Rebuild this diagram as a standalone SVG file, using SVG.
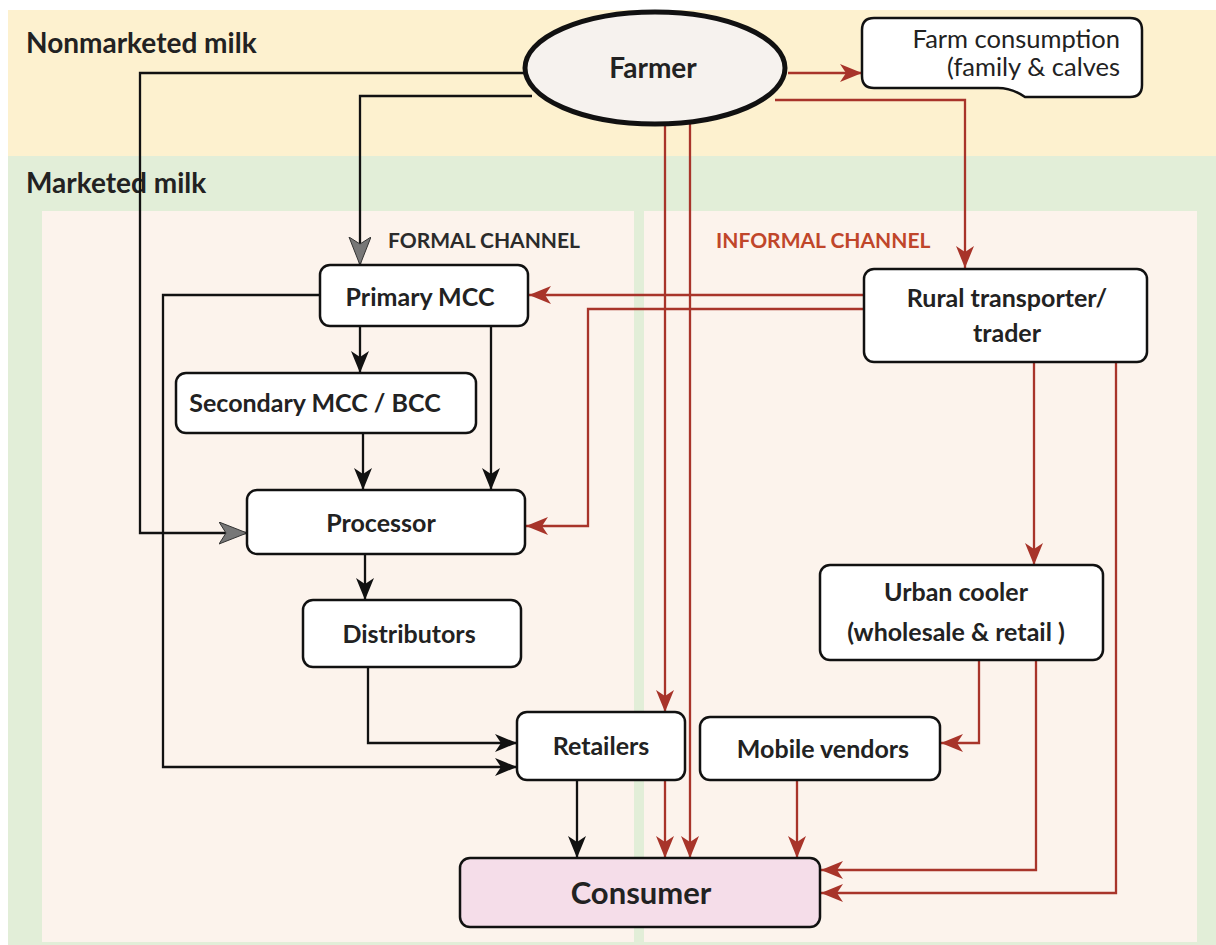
<svg xmlns="http://www.w3.org/2000/svg" width="1216" height="945" viewBox="0 0 1216 945">
<defs>
<style>
.node{fill:#ffffff;stroke:#111;stroke-width:2.5}
.t{font-family:Lato,"Open Sans","Liberation Sans",sans-serif;font-weight:bold;fill:#222;font-size:25px;text-anchor:middle}
.lbl{font-family:Lato,"Open Sans","Liberation Sans",sans-serif;font-weight:bold;fill:#222}
.blk{fill:none;stroke:#111;stroke-width:2.3}
.red{fill:none;stroke:#a8342a;stroke-width:2.3}
</style>
<marker id="ab" markerUnits="userSpaceOnUse" markerWidth="24" markerHeight="20" refX="22" refY="9" orient="auto" viewBox="0 0 24 20">
<path d="M0,0 L22,9 L0,18 L6,9 Z" fill="#111"/>
</marker>
<marker id="ag" markerUnits="userSpaceOnUse" markerWidth="30" markerHeight="24" refX="28" refY="11" orient="auto" viewBox="0 0 30 24">
<path d="M0,0 L28,11 L0,22 L7,11 Z" fill="#777" stroke="#333" stroke-width="1"/>
</marker>
<marker id="ar" markerUnits="userSpaceOnUse" markerWidth="24" markerHeight="20" refX="22" refY="9" orient="auto" viewBox="0 0 24 20">
<path d="M0,0 L22,9 L0,18 L6,9 Z" fill="#a8342a"/>
</marker>
</defs>
<rect width="1216" height="945" fill="#ffffff"/>
<rect x="8" y="10" width="1208" height="146" fill="#fdf1cf"/>
<rect x="8" y="156" width="1208" height="789" fill="#e2eed8"/>
<rect x="42" y="211" width="592" height="731" fill="#fcf3ec"/>
<rect x="644" y="211" width="553" height="731" fill="#fcf3ec"/>
<text class="lbl" x="26" y="53" style="font-size:28px">Nonmarketed milk</text>
<text class="lbl" x="26" y="193" style="font-size:28px">Marketed milk</text>
<text class="lbl" x="388" y="248" style="font-size:21px;fill:#2b2b2b">FORMAL CHANNEL</text>
<text class="lbl" x="716" y="248" style="font-size:21px;fill:#c0462a">INFORMAL CHANNEL</text>

<g id="connectors">
<path class="blk" d="M524,73 H140 V533 H247" marker-end="url(#ag)"/>
<path class="blk" d="M532,96 H360 V265" marker-end="url(#ag)"/>
<path class="blk" d="M320,295 H163 V767 H517" marker-end="url(#ab)"/>
<path class="blk" d="M360,326 V373" marker-end="url(#ab)"/>
<path class="blk" d="M491,326 V490" marker-end="url(#ab)"/>
<path class="blk" d="M363,433 V490" marker-end="url(#ab)"/>
<path class="blk" d="M365,554 V600" marker-end="url(#ab)"/>
<path class="blk" d="M368,667 V743 H517" marker-end="url(#ab)"/>
<path class="blk" d="M577,780 V858" marker-end="url(#ab)"/>
<path class="red" d="M788,73 H862" marker-end="url(#ar)"/>
<path class="red" d="M775,100 H965 V268" marker-end="url(#ar)"/>
<path class="red" d="M665,124 V712" marker-end="url(#ar)"/>
<path class="red" d="M690,122 V858" marker-end="url(#ar)"/>
<path class="red" d="M864,295 H529" marker-end="url(#ar)"/>
<path class="red" d="M864,309 H588 V526 H526" marker-end="url(#ar)"/>
<path class="red" d="M1034,362 V565" marker-end="url(#ar)"/>
<path class="red" d="M1116,362 V893 H821" marker-end="url(#ar)"/>
<path class="red" d="M979,660 V743 H941" marker-end="url(#ar)"/>
<path class="red" d="M1036,660 V870 H821" marker-end="url(#ar)"/>
<path class="red" d="M797,780 V858" marker-end="url(#ar)"/>
<path class="red" d="M665,780 V858" marker-end="url(#ar)"/>
</g>

<g id="farmer">
<ellipse cx="655" cy="68" rx="130" ry="56" fill="#f6f2ee" stroke="#111" stroke-width="5"/>
<text class="t" x="653" y="78" style="font-size:28px">Farmer</text>
</g>
<g id="farm-consumption">
<path d="M874,18 H1130 Q1142,18 1142,30 V85 Q1142,97 1130,97 H1025 Q1012,88 998,88 H874 Q862,88 862,76 V30 Q862,18 874,18 Z" fill="#fff" stroke="#111" stroke-width="2.5"/>
<text x="1120" y="48" style="font-family:Lato,'Open Sans','Liberation Sans',sans-serif;font-size:25.5px;fill:#222;text-anchor:end">Farm consumption</text>
<text x="1120" y="76" style="font-family:Lato,'Open Sans','Liberation Sans',sans-serif;font-size:25.5px;fill:#222;text-anchor:end">(family &amp; calves</text>
</g>
<g id="primary-mcc">
<rect class="node" x="320" y="265" width="208" height="61" rx="10"/>
<text class="t" x="420" y="306">Primary MCC</text>
</g>
<g id="secondary-mcc">
<rect class="node" x="176" y="373" width="300" height="60" rx="10"/>
<text class="t" x="315" y="412">Secondary MCC / BCC</text>
</g>
<g id="processor">
<rect class="node" x="247" y="490" width="278" height="64" rx="10"/>
<text class="t" x="381" y="532">Processor</text>
</g>
<g id="distributors">
<rect class="node" x="303" y="600" width="218" height="67" rx="10"/>
<text class="t" x="409" y="643">Distributors</text>
</g>
<g id="retailers">
<rect class="node" x="517" y="712" width="168" height="68" rx="10"/>
<text class="t" x="601" y="755">Retailers</text>
</g>
<g id="mobile-vendors">
<rect class="node" x="700" y="717" width="240" height="63" rx="10"/>
<text class="t" x="823" y="758">Mobile vendors</text>
</g>
<g id="urban-cooler">
<rect class="node" x="820" y="565" width="283" height="95" rx="10"/>
<text class="t" x="956" y="601">Urban cooler</text>
<text class="t" x="956" y="641">(wholesale &amp; retail )</text>
</g>
<g id="rural-transporter">
<rect class="node" x="864" y="269" width="283" height="93" rx="10"/>
<text class="t" x="1007" y="307">Rural transporter/</text>
<text class="t" x="1007" y="342">trader</text>
</g>
<g id="consumer">
<rect x="460" y="858" width="360" height="69" rx="10" fill="#f5dde9" stroke="#111" stroke-width="2.5"/>
<text class="t" x="641" y="904" style="font-size:31px">Consumer</text>
</g>
</svg>
